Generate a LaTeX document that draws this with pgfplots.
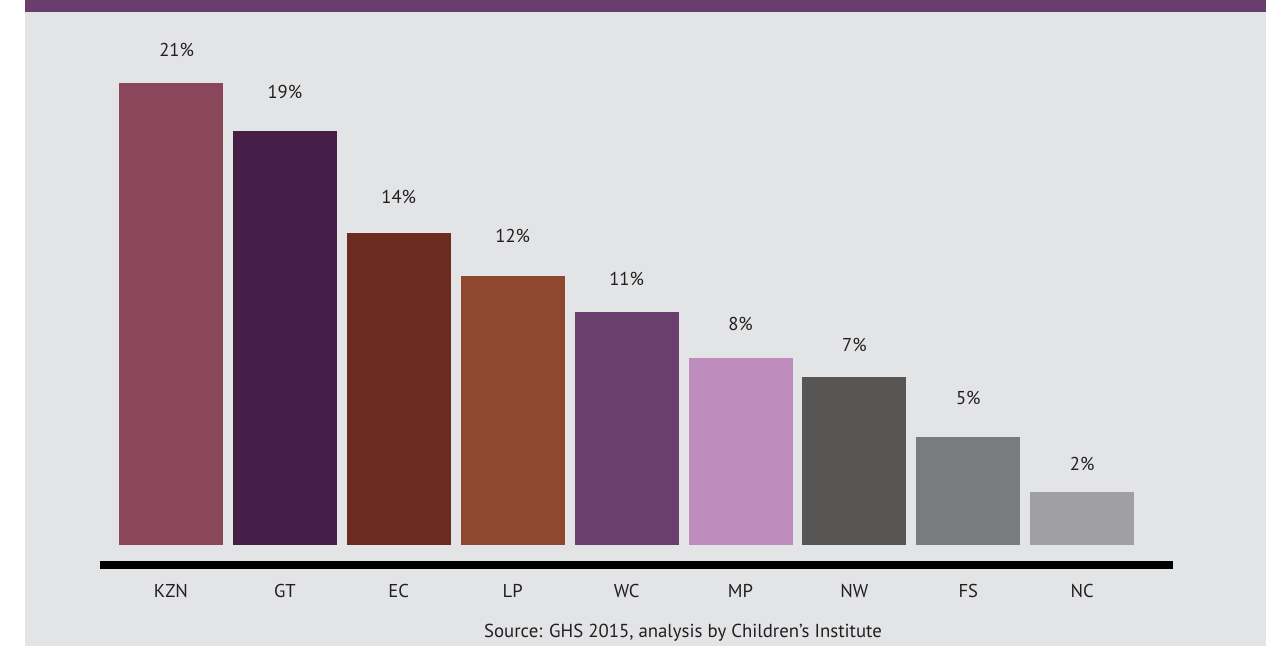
\documentclass[border=0pt]{standalone}
\usepackage{pgfplots}
\pgfplotsset{compat=1.18}
\usepackage{fontspec}
\setmainfont{PT Sans}
\definecolor{bgpanel}{HTML}{E3E4E6}
\definecolor{band}{HTML}{693E6D}
\definecolor{txt}{HTML}{231F20}
\definecolor{cKZN}{HTML}{8A475C}
\definecolor{cGT}{HTML}{461E47}
\definecolor{cEC}{HTML}{6D2C20}
\definecolor{cLP}{HTML}{8F472E}
\definecolor{cWC}{HTML}{6A3E6D}
\definecolor{cMP}{HTML}{BE8DBE}
\definecolor{cNW}{HTML}{585654}
\definecolor{cFS}{HTML}{7A7B7D}
\definecolor{cNC}{HTML}{A0A0A2}
\begin{document}
\begin{tikzpicture}
\useasboundingbox (0,0) rectangle (639pt,323pt);
\fill[bgpanel] (12.5pt,0) rectangle (633pt,317pt);
\fill[band] (12.5pt,317pt) rectangle (633pt,323pt);
\begin{axis}[
  at={(50pt,40.5pt)}, anchor=south west,
  scale only axis,
  width=536.5pt, height=276.5pt,
  xmin=-0.623, xmax=8.797,
  ymin=-0.909, ymax=24.227,
  axis x line=bottom,
  axis y line=none,
  axis line style={line width=4pt, -, black},
  xtick={0,1,2,3,4,5,6,7,8},
  xticklabels={KZN,GT,EC,LP,WC,MP,NW,FS,NC},
  major tick length=0pt,
  xticklabel style={anchor=center, font=\fontsize{9.3pt}{11pt}\selectfont, text=txt, yshift=-13pt},
  clip=false,
]
\addplot[ybar, bar width=52pt, bar shift=0pt, fill=cKZN, draw=none] coordinates {(0,21.0)};
\addplot[ybar, bar width=52pt, bar shift=0pt, fill=cGT, draw=none] coordinates {(1,18.82)};
\addplot[ybar, bar width=52pt, bar shift=0pt, fill=cEC, draw=none] coordinates {(2,14.18)};
\addplot[ybar, bar width=52pt, bar shift=0pt, fill=cLP, draw=none] coordinates {(3,12.23)};
\addplot[ybar, bar width=52pt, bar shift=0pt, fill=cWC, draw=none] coordinates {(4,10.59)};
\addplot[ybar, bar width=52pt, bar shift=0pt, fill=cMP, draw=none] coordinates {(5,8.50)};
\addplot[ybar, bar width=52pt, bar shift=0pt, fill=cNW, draw=none] coordinates {(6,7.64)};
\addplot[ybar, bar width=52pt, bar shift=0pt, fill=cFS, draw=none] coordinates {(7,4.91)};
\addplot[ybar, bar width=52pt, bar shift=0pt, fill=cNC, draw=none] coordinates {(8,2.41)};
\addplot[draw=none, mark=none, nodes near coords, point meta=explicit symbolic,
  every node near coord/.append style={anchor=center, inner sep=0pt, text=txt, font=\fontsize{9.3pt}{11pt}\selectfont}]
  table[meta=lab] {
x y lab
0.05 22.50 21\%
1 20.61 19\%
2 15.84 14\%
3 14.05 12\%
4 12.07 11\%
5 10.05 8\%
6 9.11 7\%
7 6.70 5\%
8 3.70 2\%
};
\end{axis}
\node[text=txt, font=\fontsize{9.4pt}{11pt}\selectfont, anchor=center] at (341.5pt,6.8pt) {Source: GHS 2015, analysis by Children’s Institute};
\end{tikzpicture}
\end{document}
